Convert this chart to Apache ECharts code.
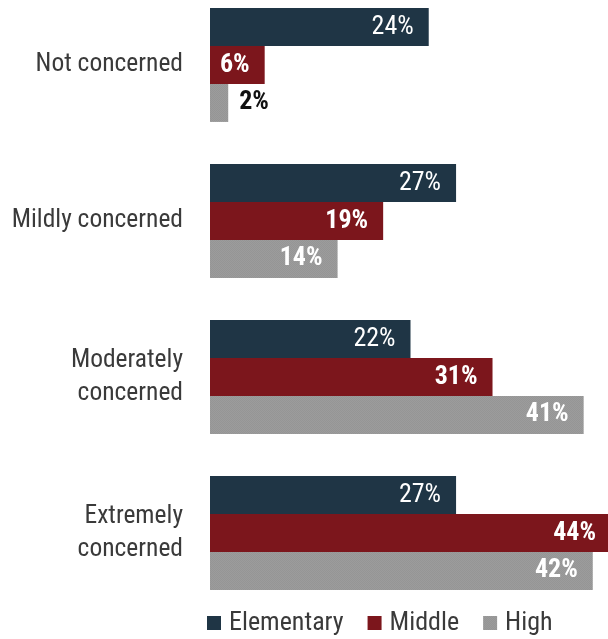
<!DOCTYPE html>
<html>
<head>
<meta charset="utf-8">
<script src="https://cdn.jsdelivr.net/npm/echarts@6/dist/echarts.min.js"></script>
<style>
  html, body { margin: 0; padding: 0; background: #fff; }
  #chart { width: 608px; height: 639px; }
</style>
</head>
<body>
<div id="chart"></div>
<script>
const categories = ['Not concerned', 'Mildly concerned', 'Moderately\nconcerned', 'Extremely\nconcerned'];
const seriesNames = ['Elementary', 'Middle', 'High'];
const elementary = [24, 27, 22, 27];
const middle = [6, 19, 31, 44];
const high = [2, 14, 41, 42];

const FONT = '"Liberation Sans Narrow", "Roboto Condensed", Roboto, sans-serif';

// fine-grained texture for the gray bars
function grayPattern() {
  const c = document.createElement('canvas');
  c.width = 2; c.height = 2;
  const g = c.getContext('2d');
  g.fillStyle = '#9c9c9c'; g.fillRect(0, 0, 2, 2);
  g.fillStyle = '#959595'; g.fillRect(0, 0, 1, 1); g.fillRect(1, 1, 1, 1);
  return c;
}

const colors = ['#1f3545', '#7c161c', { image: grayPattern(), repeat: 'repeat' }];

function makeData(values) {
  return values.map(v => {
    // short bars get their value printed just past the bar end
    if (v < 4) {
      return { value: v, label: { position: 'right', distance: 11, color: '#111' } };
    }
    return v;
  });
}

function makeSeries(name, values, idx, bold) {
  return {
    name: name,
    type: 'bar',
    data: makeData(values),
    barGap: '0%',
    barCategoryGap: '27%',
    itemStyle: { color: colors[idx] },
    label: {
      show: true,
      position: 'insideRight',
      distance: 15,
      color: '#fff',
      fontFamily: FONT,
      fontSize: 26,
      fontWeight: bold ? 'bold' : 'normal',
      formatter: p => p.value + '%'
    }
  };
}

const chart = echarts.init(document.getElementById('chart'), null, { renderer: 'canvas' });
chart.setOption({
  animation: false,
  color: colors,
  grid: {
    left: 210, top: -13, width: 401, height: 624,
    containLabel: false,
    outerBoundsMode: 'none'
  },
  xAxis: { type: 'value', min: 0, max: 44, show: false },
  yAxis: {
    type: 'category',
    data: categories,
    inverse: true,
    axisLine: { show: false },
    axisTick: { show: false },
    axisLabel: {
      margin: 27,
      color: '#3a3a3a',
      fontFamily: FONT,
      fontSize: 25.5,
      lineHeight: 33,
      align: 'right',
      padding: [6, 0, 0, 0]
    }
  },
  legend: {
    data: seriesNames,
    left: 207,
    top: 610,
    padding: 0,
    itemWidth: 14,
    itemHeight: 14,
    itemGap: 24,
    icon: 'rect',
    textStyle: {
      color: '#3a3a3a',
      fontFamily: FONT,
      fontSize: 26,
      padding: [0, 0, 0, 3]
    }
  },
  series: [
    makeSeries(seriesNames[0], elementary, 0, false),
    makeSeries(seriesNames[1], middle, 1, true),
    makeSeries(seriesNames[2], high, 2, true)
  ]
});
</script>
</body>
</html>
